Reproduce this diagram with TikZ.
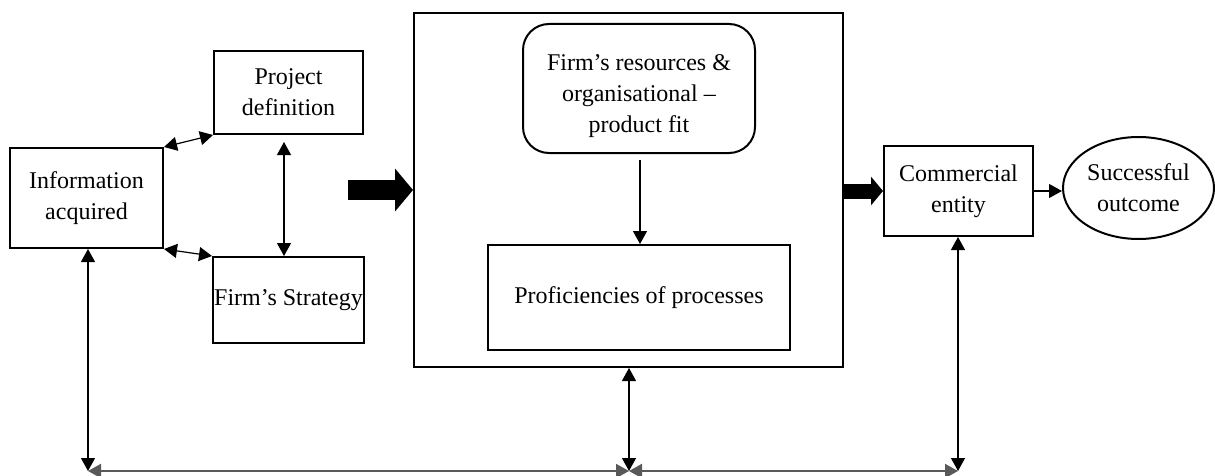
\documentclass[tikz,border=0pt]{standalone}
\usepackage{fontspec}
\setmainfont{Liberation Serif}
\usetikzlibrary{arrows.meta,shapes.geometric,calc}
\begin{document}
\begin{tikzpicture}[x=0.5pt,y=-0.5pt,
  box/.style={draw,line width=1pt,align=center,inner sep=1pt,font=\fontsize{12}{15.5}\selectfont},
  txt/.style={align=center,inner sep=0pt,font=\fontsize{12}{15.5}\selectfont},
  link/.style={line width=0.6pt,{Triangle[length=6.5pt,width=7pt]}-{Triangle[length=6.5pt,width=7pt]}},
  oneway/.style={line width=0.6pt,-{Triangle[length=6.5pt,width=7pt]}},
  baseline link/.style={line width=1pt,draw=black!65,{Triangle[length=6.5pt,width=7pt]}-{Triangle[length=6.5pt,width=7pt]}},
  bigarrow/.style={line width=10pt,-{Triangle[length=9pt,width=21pt]}},
  midarrow/.style={line width=7.5pt,-{Triangle[length=6pt,width=14pt]}}
]
\useasboundingbox (0,0) rectangle (1215,476);

\node[box,minimum width=76.5pt,minimum height=50pt] (info) at (86.5,198) {Information\\acquired};
\node[box,minimum width=74.5pt,minimum height=41.5pt] (proj) at (288.5,92.5) {Project\\definition};
\node[box,minimum width=75.5pt,minimum height=43pt,inner sep=0pt] (strat) at (288.5,300) {Firm’s Strategy};
\node[box,minimum width=214.5pt,minimum height=177pt] (outer) at (628.5,190) {};
\node[box,rounded corners=13pt,minimum width=116pt,minimum height=64.5pt] (res) at (639,88.5) {};
\node[txt] (restext) at ($(res.center)+(0,8)$) {Firm’s resources \&\\organisational –\\product fit};
\node[box,minimum width=151pt,minimum height=52.5pt] (prof) at (639,297.5) {Proficiencies of processes};
\node[box,minimum width=74.5pt,minimum height=45pt] (com) at (958.5,191) {Commercial\\entity};
\node[box,ellipse,minimum width=75.5pt,minimum height=51pt] (succ) at (1138.5,188) {Successful\\outcome};

% left cluster links
\draw[link] (info.north east) -- (proj.south west);
\draw[link] (info.south east) -- (strat.north west);
\draw[link] ($(proj.south)+(-4.5,7)$) -- ($(strat.north)+(-4.5,0)$);

% thick arrows
\coordinate (t1) at (348,190);
\draw[bigarrow] (t1) -- (outer.west |- t1);
\draw[midarrow] (outer.east |- com.west) -- (com.west);

% inner arrow
\draw[oneway] ($(res.south)+(1,6)$) -- (prof.north -| 640,0);

% to outcome
\draw[oneway] (com.east) -- (com.east -| succ.west);

% bottom feedback
\coordinate (bl) at (88,471);
\coordinate (bm) at (629,471);
\coordinate (br) at (958,471);
\draw[link] (info.south -| bl) -- (bl);
\draw[link] (outer.south -| bm) -- (bm);
\draw[link] (com.south -| br) -- (br);
\draw[baseline link] (bl) -- (bm);
\draw[baseline link] (bm) -- (br);
\end{tikzpicture}
\end{document}
